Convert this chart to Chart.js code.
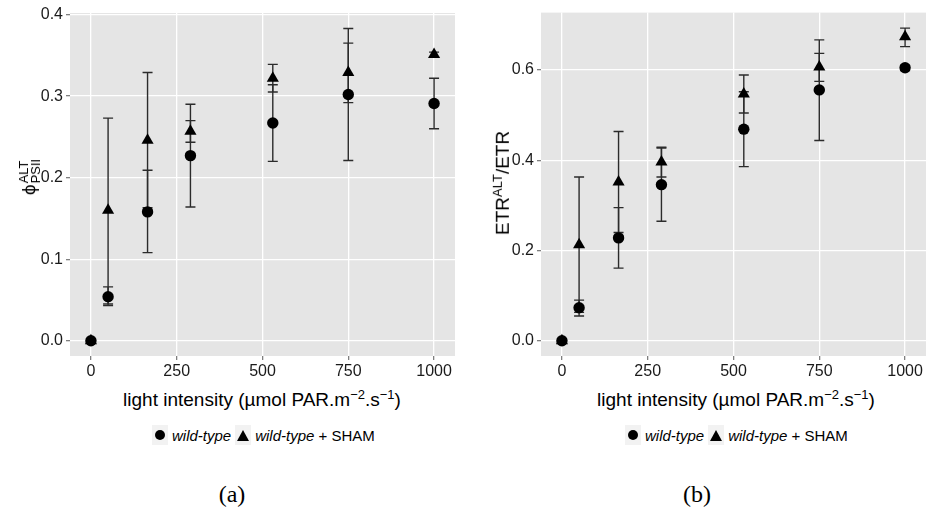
<!DOCTYPE html>
<html>
<head>
<meta charset="utf-8">
<script src="https://cdn.jsdelivr.net/npm/chart.js@4.4.0/dist/chart.umd.min.js"></script>
<style>
    body { margin: 0; background: #fff; font-family: "Liberation Sans", Arial, sans-serif; }
    #wrap { position: relative; width: 933px; height: 511px; overflow: hidden; }
    canvas { position: absolute; top: 0; }
    .lbl { position: absolute; white-space: nowrap; color: #000; transform: translate(-50%, -50%); }
    .xt { font-size: 19px; }
    .yt { font-size: 19px; transform: translate(-50%, -50%) rotate(-90deg); }
    .stack { display: inline-flex; flex-direction: column; vertical-align: middle; font-size: 13px; line-height: 12px; margin-left: 1px; }
    .legend { position: absolute; top: 425px; display: flex; align-items: center; font-size: 15px; }
    .key { width: 16px; height: 20px; background: #f2f2f2; display: flex; align-items: center; justify-content: center; margin-right: 4px; }
    .dot { width: 10px; height: 10px; border-radius: 50%; background: #000; }
    .tri { width: 0; height: 0; border-left: 6px solid transparent; border-right: 6px solid transparent; border-bottom: 11px solid #000; }
    .legend span.t { margin-right: 4px; }
    .cap { position: absolute; font-family: "Liberation Serif", "DejaVu Serif", serif; font-size: 24px; transform: translate(-50%, -50%); }
</style>
</head>
<body>
<div id="wrap">
    <canvas id="chartA" width="466" height="380" style="left:0"></canvas>
    <canvas id="chartB" width="467" height="380" style="left:466px"></canvas>

    <div class="lbl yt" style="left:30px; top:177px">ϕ<span class="stack"><span>ALT</span><span>PSII</span></span></div>
    <div class="lbl yt" style="left:502px; top:183px">ETR<sup style="font-size:13px">ALT</sup>/ETR</div>

    <div class="lbl xt" style="left:262px; top:399px">light intensity (µmol PAR.m<sup style="font-size:13px">−2</sup>.s<sup style="font-size:13px">−1</sup>)</div>
    <div class="lbl xt" style="left:736px; top:399px">light intensity (µmol PAR.m<sup style="font-size:13px">−2</sup>.s<sup style="font-size:13px">−1</sup>)</div>

    <div class="legend" style="left:152px">
        <div class="key"><div class="dot"></div></div><span class="t"><i>wild-type</i></span>
        <div class="key"><div class="tri"></div></div><span><i>wild-type</i> + SHAM</span>
    </div>
    <div class="legend" style="left:625px">
        <div class="key"><div class="dot"></div></div><span class="t"><i>wild-type</i></span>
        <div class="key"><div class="tri"></div></div><span><i>wild-type</i> + SHAM</span>
    </div>

    <div class="cap" style="left:232px; top:494px">(a)</div>
    <div class="cap" style="left:697px; top:494px">(b)</div>
</div>

<script>
// light intensities
const light = [0, 50, 165, 290, 530, 750, 1000];
const xTicks = [0, 250, 500, 750, 1000];

// (a) phi PSII ALT
const phiWt = [0, 0.054, 0.158, 0.227, 0.267, 0.302, 0.291];
const phiWtLo = [0, 0.043, 0.108, 0.164, 0.220, 0.221, 0.260];
const phiWtHi = [0, 0.066, 0.209, 0.290, 0.314, 0.383, 0.322];
const phiSham = [0, 0.160, 0.246, 0.257, 0.322, 0.329, 0.351];
const phiShamLo = [0, 0.045, 0.163, 0.2435, 0.305, 0.292, 0.348];
const phiShamHi = [0, 0.273, 0.329, 0.270, 0.339, 0.365, 0.354];
const phiTicks = [0, 0.1, 0.2, 0.3, 0.4];

// (b) ETR ALT / ETR
const etrWt = [0, 0.073, 0.228, 0.346, 0.469, 0.556, 0.605];
const etrWtLo = [0, 0.055, 0.161, 0.265, 0.386, 0.444, 0.599];
const etrWtHi = [0, 0.090, 0.295, 0.427, 0.552, 0.667, 0.611];
const etrSham = [0, 0.213, 0.352, 0.396, 0.547, 0.607, 0.674];
const etrShamLo = [0, 0.063, 0.240, 0.363, 0.505, 0.575, 0.652];
const etrShamHi = [0, 0.363, 0.464, 0.429, 0.589, 0.637, 0.693];
const etrTicks = [0, 0.2, 0.4, 0.6];

const toXY = ys => light.map((x, i) => ({ x: x, y: ys[i] }));

// grey panel behind the grid
const panelBg = {
    id: 'panelBg',
    beforeDraw(chart) {
        const a = chart.chartArea, c = chart.ctx;
        c.save();
        c.fillStyle = '#e5e5e5';
        c.fillRect(a.left, a.top, a.right - a.left, a.bottom - a.top);
        c.restore();
    }
};

// error bars with caps, drawn under the points
const errorBars = {
    id: 'errorBars',
    beforeDatasetsDraw(chart) {
        const c = chart.ctx, xs = chart.scales.x, ys = chart.scales.y;
        c.save();
        c.strokeStyle = '#2b2b2b';
        c.lineWidth = 1.4;
        chart.data.datasets.forEach(ds => {
            ds.data.forEach((p, i) => {
                const px = xs.getPixelForValue(p.x);
                const lo = ys.getPixelForValue(ds.errLo[i]);
                const hi = ys.getPixelForValue(ds.errHi[i]);
                c.beginPath();
                c.moveTo(px, lo); c.lineTo(px, hi);
                c.moveTo(px - 5, lo); c.lineTo(px + 5, lo);
                c.moveTo(px - 5, hi); c.lineTo(px + 5, hi);
                c.stroke();
            });
        });
        c.restore();
    }
};

function makePanel(id, wt, wtLo, wtHi, sham, shamLo, shamHi, yMin, yMax, yTicks, yWidth, pad) {
    new Chart(document.getElementById(id), {
        type: 'scatter',
        data: {
            datasets: [{
                label: 'wild-type',
                data: toXY(wt),
                errLo: wtLo, errHi: wtHi,
                pointStyle: 'circle',
                pointRadius: 5.7,
                backgroundColor: '#000',
                borderColor: '#000',
                borderWidth: 0,
                order: 2
            }, {
                label: 'wild-type + SHAM',
                data: toXY(sham),
                errLo: shamLo, errHi: shamHi,
                pointStyle: 'triangle',
                pointRadius: 7,
                backgroundColor: '#000',
                borderColor: '#000',
                borderWidth: 0,
                order: 1
            }]
        },
        options: {
            responsive: false,
            animation: false,
            layout: { padding: pad },
            plugins: {
                legend: { display: false },
                tooltip: { enabled: false }
            },
            scales: {
                x: {
                    type: 'linear',
                    min: -61, max: 1061,
                    afterBuildTicks: s => { s.ticks = xTicks.map(v => ({ value: v })); },
                    afterFit: s => { s.height = 24; },
                    grid: { color: '#fff', lineWidth: 1.3, tickColor: '#7f7f7f', tickLength: 4 },
                    border: { display: false },
                    ticks: {
                        padding: 2,
                        color: '#1a1a1a',
                        font: { family: 'Liberation Sans', size: 16 },
                        callback: v => String(v)
                    }
                },
                y: {
                    min: yMin, max: yMax,
                    afterBuildTicks: s => { s.ticks = yTicks.map(v => ({ value: v })); },
                    afterFit: s => { s.width = yWidth; },
                    grid: { color: '#fff', lineWidth: 1.3, tickColor: '#7f7f7f', tickLength: 4 },
                    border: { display: false },
                    ticks: {
                        padding: 3,
                        color: '#1a1a1a',
                        font: { family: 'Liberation Sans', size: 16 },
                        callback: v => v.toFixed(1)
                    }
                }
            }
        },
        plugins: [panelBg, errorBars]
    });
}

makePanel('chartA', phiWt, phiWtLo, phiWtHi, phiSham, phiShamLo, phiShamHi,
    -0.0188, 0.402, phiTicks, 70, { top: 13, right: 11, left: 0, bottom: 0 });
makePanel('chartB', etrWt, etrWtLo, etrWtHi, etrSham, etrShamLo, etrShamHi,
    -0.0338, 0.7274, etrTicks, 75, { top: 12, right: 1, left: 0, bottom: 0 });
</script>
</body>
</html>
